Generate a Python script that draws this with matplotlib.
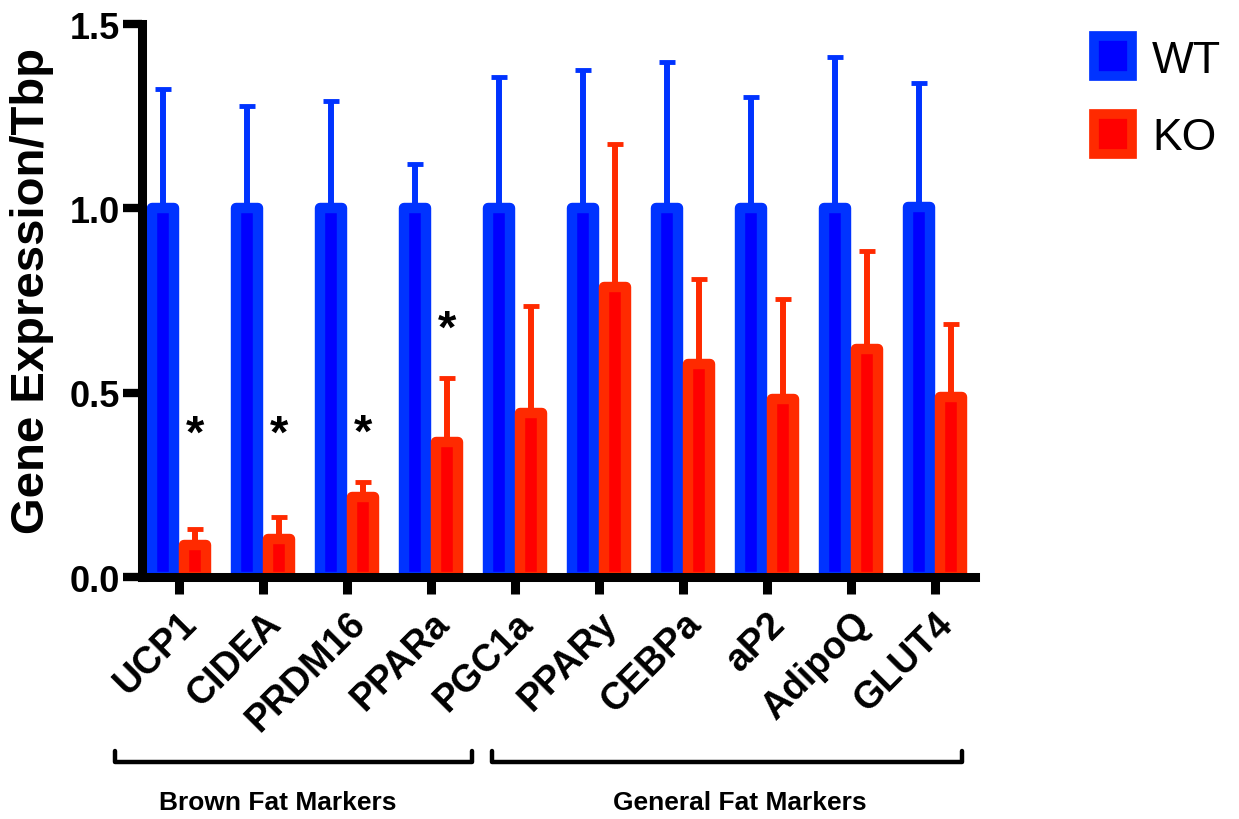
import matplotlib
matplotlib.use("Agg")
import matplotlib.pyplot as plt
from matplotlib.patches import Patch
from matplotlib.lines import Line2D
import matplotlib.transforms as mtransforms
import numpy as np

plt.rcParams['font.family'] = ['Liberation Sans', 'DejaVu Sans']

genes = ["UCP1", "CIDEA", "PRDM16", "PPARa", "PGC1a", "PPARy", "CEBPa", "aP2", "AdipoQ", "GLUT4"]
wt_mean = [1.0, 1.0, 1.0, 1.0, 1.0, 1.0, 1.0, 1.0, 1.0, 1.005]
wt_err = [0.324, 0.278, 0.291, 0.12, 0.356, 0.375, 0.397, 0.302, 0.41, 0.335]
ko_mean = [0.088, 0.104, 0.217, 0.366, 0.445, 0.787, 0.578, 0.483, 0.618, 0.488]
ko_err = [0.042, 0.059, 0.041, 0.174, 0.29, 0.387, 0.23, 0.271, 0.266, 0.198]
significant = [True, True, True, True, False, False, False, False, False, False]
group_names = ["Brown Fat Markers", "General Fat Markers"]

wt_fill, wt_edge = "#0000FF", "#0033FF"
ko_fill, ko_edge = "#FF0000", "#FF2A00"

fig = plt.figure(figsize=(12.39, 8.2), dpi=100)
ax = fig.add_axes([0.1146, 0.295, 0.6723, 0.6745])

x = np.arange(len(genes))
off = 0.19
w = 0.256

ax.errorbar(x - off, wt_mean, yerr=[np.zeros(len(x)), wt_err], fmt='none',
            ecolor=wt_edge, elinewidth=4.3, capsize=6, capthick=3.5, zorder=1)
ax.errorbar(x + off, ko_mean, yerr=[np.zeros(len(x)), ko_err], fmt='none',
            ecolor=ko_edge, elinewidth=4.3, capsize=6, capthick=3.5, zorder=1)

ax.bar(x - off, wt_mean, width=w, color=wt_fill, edgecolor=wt_edge,
       linewidth=7.5, joinstyle='round', zorder=2)
ax.bar(x + off, ko_mean, width=w, color=ko_fill, edgecolor=ko_edge,
       linewidth=7.5, joinstyle='round', zorder=2)

for i, sig in enumerate(significant):
    if sig:
        ypos = max(ko_mean[i] + ko_err[i] + 0.13, 0.385)
        ax.text(x[i] + off, ypos, "*", ha='center', va='center',
                fontsize=34, fontweight='bold', color='black')

ax.set_xlim(-0.44, 9.476)
ax.set_ylim(0, 1.5)
ax.set_yticks([0.0, 0.5, 1.0, 1.5])
ax.set_yticklabels(["0.0", "0.5", "1.0", "1.5"], fontsize=26, fontweight='bold')
ax.set_xticks(x)
ax.set_xticklabels(genes, rotation=45, ha='right', va='top', rotation_mode='anchor',
                   fontsize=27, fontweight='bold')
shift = mtransforms.ScaledTranslation(-0.11, -0.08, fig.dpi_scale_trans)
for lab in ax.get_xticklabels():
    lab.set_transform(lab.get_transform() + shift)

ax.set_ylabel("Gene Expression/Tbp", fontsize=34, fontweight='bold')
ax.yaxis.set_label_coords(-0.106, 0.52)

for side in ['top', 'right']:
    ax.spines[side].set_visible(False)
for side in ['left', 'bottom']:
    ax.spines[side].set_linewidth(6.5)
    ax.spines[side].set_capstyle('projecting')
ax.tick_params(axis='y', direction='out', length=14, width=6, pad=1.5)
ax.tick_params(axis='x', direction='out', length=12, width=6.5, pad=8)

# group brackets below the tick labels
trans = mtransforms.blended_transform_factory(ax.transData, fig.transFigure)
bracket_spans = [(-0.76, 3.49), (3.73, 9.32)]
label_centers = [1.18, 6.68]
for name, (x0, x1), xc in zip(group_names, bracket_spans, label_centers):
    ax.add_artist(Line2D([x0, x0, x1, x1], [0.083, 0.0695, 0.0695, 0.083],
                         transform=trans, color='black', linewidth=3.2,
                         solid_joinstyle='round', solid_capstyle='round', clip_on=False))
    ax.text(xc, 0.021, name, transform=trans, ha='center', va='center',
            fontsize=19, fontweight='bold')

handles = [Patch(facecolor=wt_fill, edgecolor=wt_edge, linewidth=7, label="WT"),
           Patch(facecolor=ko_fill, edgecolor=ko_edge, linewidth=7, label="KO")]
fig.legend(handles=handles, loc='upper left', bbox_to_anchor=(0.869, 0.976),
           frameon=False, fontsize=32, handlelength=0.85, handleheight=1.0,
           handletextpad=0.45, labelspacing=0.75, borderaxespad=0)

fig.savefig("out.png", dpi=100)
